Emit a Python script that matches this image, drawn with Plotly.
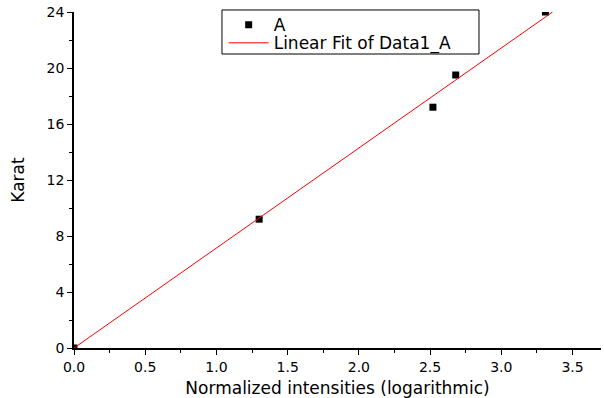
import plotly.graph_objects as go

x_data = [0.0, 1.30, 2.52, 2.68, 3.31]
y_data = [0.0, 9.2, 17.2, 19.5, 24.0]
fit_x = [0.0, 3.36]
fit_y = [0.0, 24.0]

FONT = "DejaVu Sans, Liberation Sans, Arial, sans-serif"

fig = go.Figure()
fig.add_trace(go.Scatter(x=x_data, y=y_data, mode="markers", name="A", legend="legend",
                         marker=dict(symbol="square", size=7, color="black")))
fig.add_trace(go.Scatter(x=fit_x, y=fit_y, mode="lines", name="Linear Fit of Data1_A",
                         legend="legend2", line=dict(color="red", width=1)))

axis_common = dict(showline=True, linecolor="black", linewidth=1.5, ticks="outside",
                   ticklen=5, tickcolor="black", tickwidth=1, showgrid=False, zeroline=False,
                   automargin=False,
                   tickfont=dict(family=FONT, size=14, color="black"))

fig.update_xaxes(range=[0, 3.70], tick0=0, dtick=0.5, tickformat=".1f",
                 title=dict(text="Normalized intensities (logarithmic)",
                            font=dict(family=FONT, size=17, color="black"), standoff=11),
                 minor=dict(ticks="outside", ticklen=3, dtick=0.25, tickcolor="black"),
                 **axis_common)
fig.update_yaxes(range=[0, 24], tick0=0, dtick=4,
                 title=dict(text="Karat", font=dict(family=FONT, size=17, color="black"), standoff=18),
                 minor=dict(ticks="outside", ticklen=3, dtick=2, tickcolor="black"),
                 **axis_common)

# legend frame (paper coordinates)
fig.add_shape(type="rect", xref="paper", yref="paper",
              x0=0.2808, x1=0.7685, y0=0.875, y1=1.006,
              line=dict(color="black", width=1), fillcolor="white", layer="above")

leg_common = dict(xanchor="left", yanchor="middle", borderwidth=0, bgcolor="rgba(0,0,0,0)",
                  font=dict(family=FONT, size=17, color="black"), itemwidth=40)

fig.update_layout(
    width=604, height=398,
    margin=dict(l=74, r=3, t=12, b=50),
    plot_bgcolor="white", paper_bgcolor="white",
    font=dict(family=FONT, size=14, color="black"),
    legend=dict(x=0.284, y=0.961, **leg_common),
    legend2=dict(x=0.284, y=0.907, **leg_common),
    showlegend=True,
)

fig.write_html("out.html")
